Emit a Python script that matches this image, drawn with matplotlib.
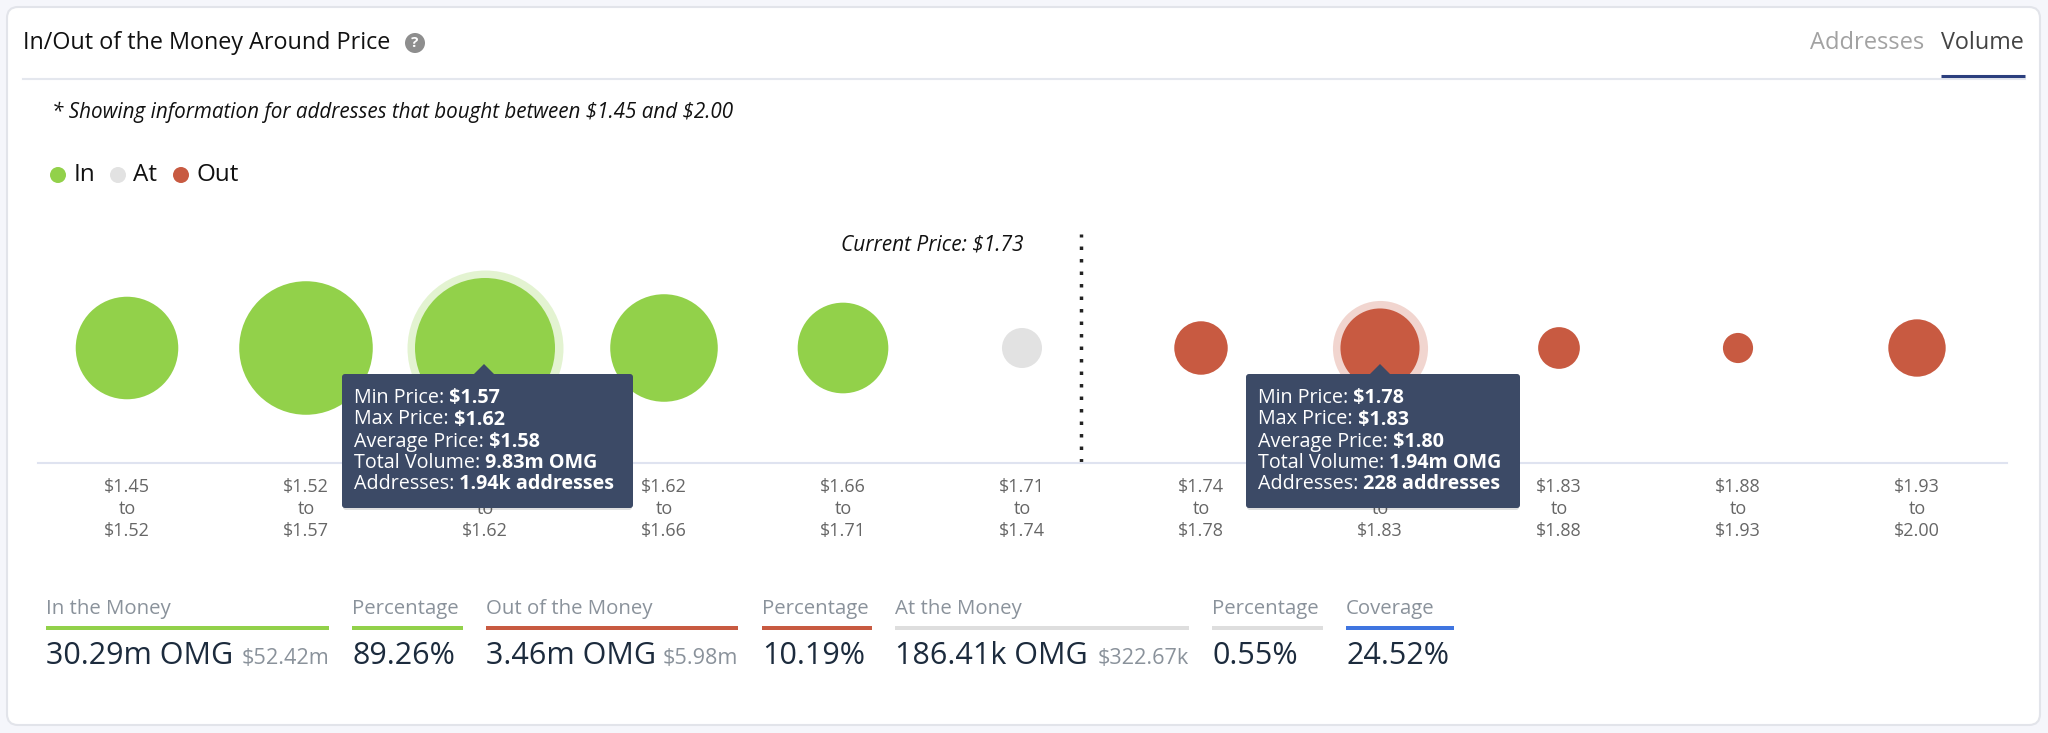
import matplotlib
matplotlib.use("Agg")
import matplotlib.pyplot as plt
import numpy as np
from matplotlib.patches import FancyBboxPatch, Polygon, Circle, Rectangle

plt.rcParams['text.parse_math'] = False
plt.rcParams['font.family'] = ['Open Sans', 'DejaVu Sans']

# Datos del grafico
rangos_min = ["$1.45", "$1.52", "$1.57", "$1.62", "$1.66", "$1.71", "$1.74", "$1.78", "$1.83", "$1.88", "$1.93"]
rangos_max = ["$1.52", "$1.57", "$1.62", "$1.66", "$1.71", "$1.74", "$1.78", "$1.83", "$1.88", "$1.93", "$2.00"]
volumen_m = [4.15, 8.65, 9.83, 4.75, 2.91, 0.186, 0.55, 1.94, 0.22, 0.05, 0.70]
estado = ["in", "in", "in", "in", "in", "at", "out", "out", "out", "out", "out"]

leyenda_nombres = ["In", "At", "Out"]
tooltip_1_etiquetas = ["Min Price:", "Max Price:", "Average Price:", "Total Volume:", "Addresses:"]
tooltip_1_valores = ["$1.57", "$1.62", "$1.58", "9.83m OMG", "1.94k addresses"]
tooltip_2_valores = ["$1.78", "$1.83", "$1.80", "1.94m OMG", "228 addresses"]

resumen_titulos = ["In the Money", "Percentage", "Out of the Money", "Percentage", "At the Money", "Percentage", "Coverage"]
resumen_valores = ["30.29m OMG", "89.26%", "3.46m OMG", "10.19%", "186.41k OMG", "0.55%", "24.52%"]
resumen_usd = ["$52.42m", "", "$5.98m", "", "$322.67k", "", ""]

colores = {"in": "#92d14a", "at": "#e2e2e2", "out": "#c85a41"}
resumen_colores = ["#92d14a", "#92d14a", "#c85a41", "#c85a41", "#dedede", "#dedede", "#3f75e0"]
resumen_x0 = [46, 352, 486, 762, 895, 1212, 1346]
resumen_x1 = [329, 463, 738, 872, 1189, 1323, 1454]

W, H = 2048, 733
fig = plt.figure(figsize=(W / 100, H / 100), dpi=100, facecolor="#f5f6fb")


def ejes_px(x0, y0, x1, y1, zorder):
    # Crea unos ejes a partir de la caja en pixeles, con y hacia abajo
    ax = fig.add_axes([x0 / W, 1 - y1 / H, (x1 - x0) / W, (y1 - y0) / H], zorder=zorder)
    ax.patch.set_alpha(0)
    return ax


# Fondo: tarjeta, encabezado y resumen
fondo = ejes_px(0, 0, W, H, 0)
fondo.set_xlim(0, W)
fondo.set_ylim(H, 0)
fondo.axis("off")

fondo.add_patch(FancyBboxPatch((7, 7), 2033, 718, boxstyle="round,pad=0,rounding_size=11",
                               fc="white", ec="#e2e4ea", lw=1.5))
fondo.plot([23, 2025], [79, 79], color="#e4e7ee", lw=1.5)
fondo.plot([1941, 2025], [76, 76], color="#2b3f7e", lw=2.2, solid_capstyle="butt")

fondo.text(23, 43, "In/Out of the Money Around Price", fontsize=16.8, color="#111111", va="center")
fondo.add_patch(Circle((415, 43), 10, fc="#8e8e8e", ec="none"))
fondo.text(415, 43, "?", fontsize=11, color="white", ha="center", va="center", fontweight="bold")
fondo.text(1810, 43, "Addresses", fontsize=17, color="#a2a2a2", va="center")
fondo.text(1941, 43, "Volume", fontsize=16.8, color="#444444", va="center")

fondo.text(52, 112, "* Showing information for addresses that bought between $1.45 and $2.00",
           fontsize=14.9, fontstyle="italic", color="#111111", va="center")

for nombre, clave, xd, xt in zip(leyenda_nombres, ["in", "at", "out"], [58, 118, 181], [74, 133, 196]):
    fondo.add_patch(Circle((xd, 175), 8, fc=colores[clave], ec="none"))
    fondo.text(xt, 175, nombre, fontsize=17.5, color="#111111", va="center")

for i in range(len(resumen_titulos)):
    fondo.text(resumen_x0[i], 609, resumen_titulos[i], fontsize=14.7, color="#8a929b", va="center")
    fondo.add_patch(Rectangle((resumen_x0[i], 626), resumen_x1[i] - resumen_x0[i], 4, fc=resumen_colores[i], ec="none"))
    fondo.text(resumen_x0[i], 656, resumen_valores[i], fontsize=22, color="#1c2b3d", va="center")
    if resumen_usd[i] != "":
        fondo.text(resumen_x1[i], 658, resumen_usd[i], fontsize=15.6, color="#8a929b", va="center", ha="right")

# Grafico de burbujas
ax = ejes_px(37.5, 233.3, 2006.5, 462.7, 1)
x = np.arange(len(volumen_m))
y = np.full(len(volumen_m), 0.5)
ax.set_xlim(-0.5, 10.5)
ax.set_ylim(0, 1)

# Radio en pixeles segun el volumen; s va en puntos^2
radios = 8.37 + 23.6 * np.array(volumen_m) ** 0.42
s = (2 * radios * 0.72) ** 2
ax.scatter(x, y, s=s, c=[colores[e] for e in estado], linewidths=0, zorder=3, clip_on=False)

# Halos de las burbujas resaltadas
for i in [2, 7]:
    halo = (2 * (radios[i] + 8) * 0.72) ** 2
    ax.scatter(x[i], y[i], s=halo, color=colores[estado[i]], alpha=0.25, linewidths=0, zorder=2, clip_on=False)

ax.set_xticks(x)
ax.set_xticklabels([a + "\nto\n" + b for a, b in zip(rangos_min, rangos_max)], fontsize=13, color="#666666",
                   linespacing=1.3)
ax.tick_params(axis="x", length=0, pad=11)
ax.set_yticks([])
for lado in ["top", "left", "right"]:
    ax.spines[lado].set_visible(False)
ax.spines["bottom"].set_color("#dfe3f0")
ax.spines["bottom"].set_linewidth(1.5)

ax.axvline(5.33, color="#222222", lw=2.5, linestyle=(0, (1, 2.6)), ymin=0.005, ymax=0.995)
ax.text(5.33 - 0.32, 0.95, "Current Price: $1.73", fontsize=15, fontstyle="italic", color="#111111",
        ha="right", va="center")

# Tooltips, por encima del grafico
top = ejes_px(0, 0, W, H, 2)
top.set_xlim(0, W)
top.set_ylim(H, 0)
top.axis("off")


def tooltip(x0, x1, punta, valores):
    top.add_patch(FancyBboxPatch((x0 + 1, 376), x1 - x0 - 2, 134, boxstyle="round,pad=0,rounding_size=3",
                                 fc="#000000", ec="none", alpha=0.12))
    top.add_patch(FancyBboxPatch((x0, 374), x1 - x0, 134, boxstyle="round,pad=0,rounding_size=3",
                                 fc="#3c4a66", ec="none"))
    top.add_patch(Polygon([(punta - 10, 374), (punta, 364), (punta + 10, 374)], fc="#3c4a66", ec="none"))
    for etiqueta, valor, yt in zip(tooltip_1_etiquetas, valores, [398, 419.5, 441.5, 463, 484]):
        t = top.text(x0 + 12, yt, etiqueta, fontsize=14.2, color="white", va="center")
        top.annotate(" " + valor, xy=(1, 0.5), xycoords=t, fontsize=14.2, color="white", fontweight="bold",
                     va="center")


tooltip(342, 633, 484, tooltip_1_valores)
tooltip(1246, 1520, 1380, tooltip_2_valores)

fig.savefig("out.png", dpi=100, facecolor=fig.get_facecolor())
